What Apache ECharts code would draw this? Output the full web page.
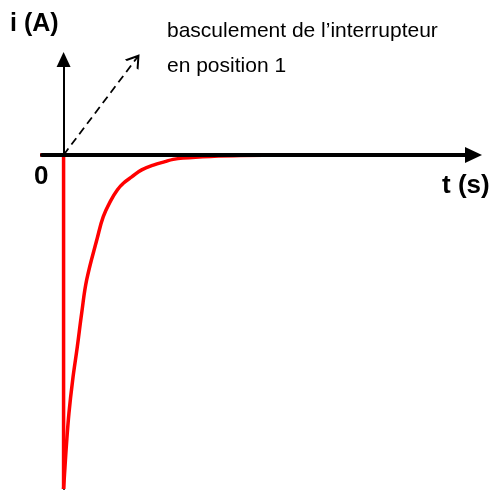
<!DOCTYPE html>
<html>
<head>
<meta charset="utf-8">
<script src="https://cdn.jsdelivr.net/npm/echarts@6/dist/echarts.min.js"></script>
<style>
    html, body { margin: 0; padding: 0; background: #fff; }
    #main { width: 492px; height: 491px; }
</style>
</head>
<body>
<div id="main"></div>
<script>
// avant le basculement : i = 0, puis chute brutale à t = 0
var stepT = [-2.35, 0, 0];
var stepI = [0, 0, -1.05];

// retour exponentiel vers 0
var curveT = [0, 0.065, 0.125, 0.25, 0.42, 0.635, 0.84, 1.07, 1.56, 1.84, 2.20,
    2.49, 2.77, 3.16, 3.62, 4.16, 4.70, 5.08, 5.53, 6.8, 8.2, 11.5];
var curveI = [-1.05, -0.981, -0.918, -0.811, -0.708, -0.604, -0.497, -0.393, -0.262, -0.194, -0.142,
    -0.110, -0.089, -0.069, -0.047, -0.032, -0.021, -0.014, -0.010, -0.005, -0.002, 0];

// flèche pointillée "basculement"
var arrowFrom = [0, 0];
var arrowTo = [3.34, 0.3];

// bornes des axes
var tMin = -1, tMax = 19;
var iMin = -1.05, iMax = 0.3;

var FONT = '"Liberation Sans", Arial, sans-serif';

function pairs(xs, ys) {
    var out = [];
    for (var k = 0; k < xs.length; k++) {
        out.push([xs[k], ys[k]]);
    }
    return out;
}

var myChart = echarts.init(document.getElementById('main'));

var option = {
    animation: false,
    backgroundColor: '#fff',
    grid: { left: 42, right: 18.5, top: 59.5, bottom: 2 },
    xAxis: {
        type: 'value',
        min: tMin,
        max: tMax,
        z: 5,
        axisLine: {
            onZero: true,
            symbol: ['none', 'triangle'],
            symbolSize: [16, 17],
            lineStyle: { color: '#000', width: 4 }
        },
        axisTick: { show: false },
        axisLabel: { show: false },
        splitLine: { show: false }
    },
    yAxis: {
        type: 'value',
        min: iMin,
        max: iMax,
        axisLine: {
            onZero: true,
            symbol: ['none', 'triangle'],
            symbolSize: [14, 15],
            lineStyle: { color: '#000', width: 2 }
        },
        axisTick: { show: false },
        axisLabel: { show: false },
        splitLine: { show: false }
    },
    series: [
        {
            // partie avant t = 0 et front vertical
            type: 'line',
            data: pairs(stepT, stepI),
            clip: false,
            showSymbol: false,
            symbol: 'none',
            lineStyle: { color: '#ff0000', width: 3.5 },
            silent: true,
            markLine: {
                silent: true,
                symbol: ['none', 'path://M0,10 L5,0 L10,10 L8.6,10 L5,2.8 L1.4,10 Z M4.5,1 L5.5,1 L5.5,5.5 L4.5,5.5 Z'],
                symbolSize: [17, 13],
                label: { show: false },
                lineStyle: { color: '#000', width: 1.8, type: [8, 5] },
                data: [[{ coord: arrowFrom }, { coord: arrowTo }]]
            }
        },
        {
            // décroissance
            type: 'line',
            data: pairs(curveT, curveI),
            clip: false,
            showSymbol: false,
            symbol: 'none',
            smooth: 0.4,
            lineStyle: { color: '#ff0000', width: 3.5 },
            silent: true
        }
    ],
    graphic: [
        { type: 'text', left: 10, top: 12, style: { text: 'i (A)', font: 'bold 25px ' + FONT, fill: '#000' } },
        { type: 'text', left: 34, top: 164, style: { text: '0', font: 'bold 26px ' + FONT, fill: '#000' } },
        { type: 'text', left: 442, top: 173, style: { text: 't (s)', font: 'bold 26px ' + FONT, fill: '#000' } },
        { type: 'text', left: 167, top: 20.5, style: { text: 'basculement de l\u2019interrupteur', font: '21px ' + FONT, fill: '#000' } },
        { type: 'text', left: 167, top: 56, style: { text: 'en position 1', font: '21px ' + FONT, fill: '#000' } }
    ]
};

myChart.setOption(option);
</script>
</body>
</html>
